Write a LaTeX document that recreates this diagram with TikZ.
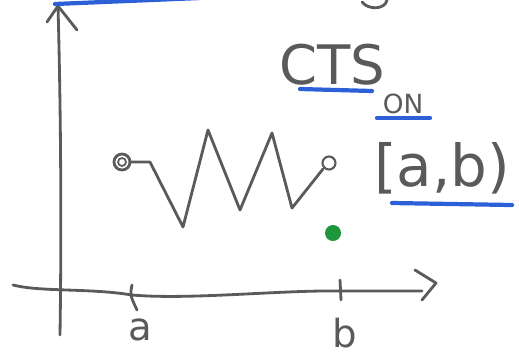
\documentclass[tikz,border=0pt]{standalone}
\usepackage{fontspec}
\setmainfont{DejaVu Sans}
\definecolor{pencil}{RGB}{90,90,90}
\definecolor{marker}{RGB}{45,95,215}
\definecolor{dotgreen}{RGB}{30,150,60}
\begin{document}
\begin{tikzpicture}[x=0.02cm,y=-0.02cm,
  pen/.style={draw=pencil,line width=1.6pt,line cap=round,line join=round},
  hl/.style={draw=marker,line width=2.4pt,line cap=round},
  lbl/.style={text=pencil,inner sep=0pt}]
\useasboundingbox (0,0) rectangle (519,359);
% axes
\coordinate (yb) at (60,335);
\coordinate (yt) at (58,6);
\draw[pen] (yb) .. controls (62,200) and (60,80) .. (yt);
\draw[pen] (47,22) -- (yt) -- (77,30);
\coordinate (xl) at (13,285);
\coordinate (xr) at (436,283);
\draw[pen] (xl) .. controls (40,292) and (90,288) .. (132,295)
  .. controls (190,300) and (280,290) .. (340,291) -- (422,291);
\draw[pen] (415,270) -- (xr) -- (422,300);
% ticks
\draw[pen] (132,285) .. controls (130,295) .. (137,310);
\draw[pen] (340,280) -- (341,300);
\node[lbl,font=\fontsize{22}{22}\selectfont] (a) at (140,330) {a};
\node[lbl,font=\fontsize{22}{22}\selectfont] (b) at (345,333) {b};
% top stroke fragments
\draw[hl] (55,4) -- (200,-2);
\draw[pen] (362,2) .. controls (368,10) and (385,10) .. (387,0);
% zigzag
\coordinate (s) at (122,162);
\coordinate (e) at (329,163);
\draw[pen] (s) circle (8);
\draw[pen,line width=1pt] (s) circle (4);
\draw[pen] (130,162) -- (150,162) -- (183,227) -- (208,130) -- (240,210)
  -- (272,133) -- (292,208) -- (323,169);
\draw[pen,line width=1.2pt] (e) circle (6.5);
\fill[dotgreen] (333,233) circle (8);
% text
\node[lbl,font=\fontsize{31}{31}\selectfont,anchor=base] (cts) at (332,84) {CTS};
\draw[hl] (300,89) -- (372,91);
\node[lbl,font=\fontsize{15}{15}\selectfont,anchor=base] (on) at (403,113) {ON};
\draw[hl] (377,118) -- (430,118);
\node[lbl,font=\fontsize{33}{33}\selectfont] (ab) at (442,168) {[a,b)};
\draw[hl] (392,203) -- (512,205);
\end{tikzpicture}
\end{document}
